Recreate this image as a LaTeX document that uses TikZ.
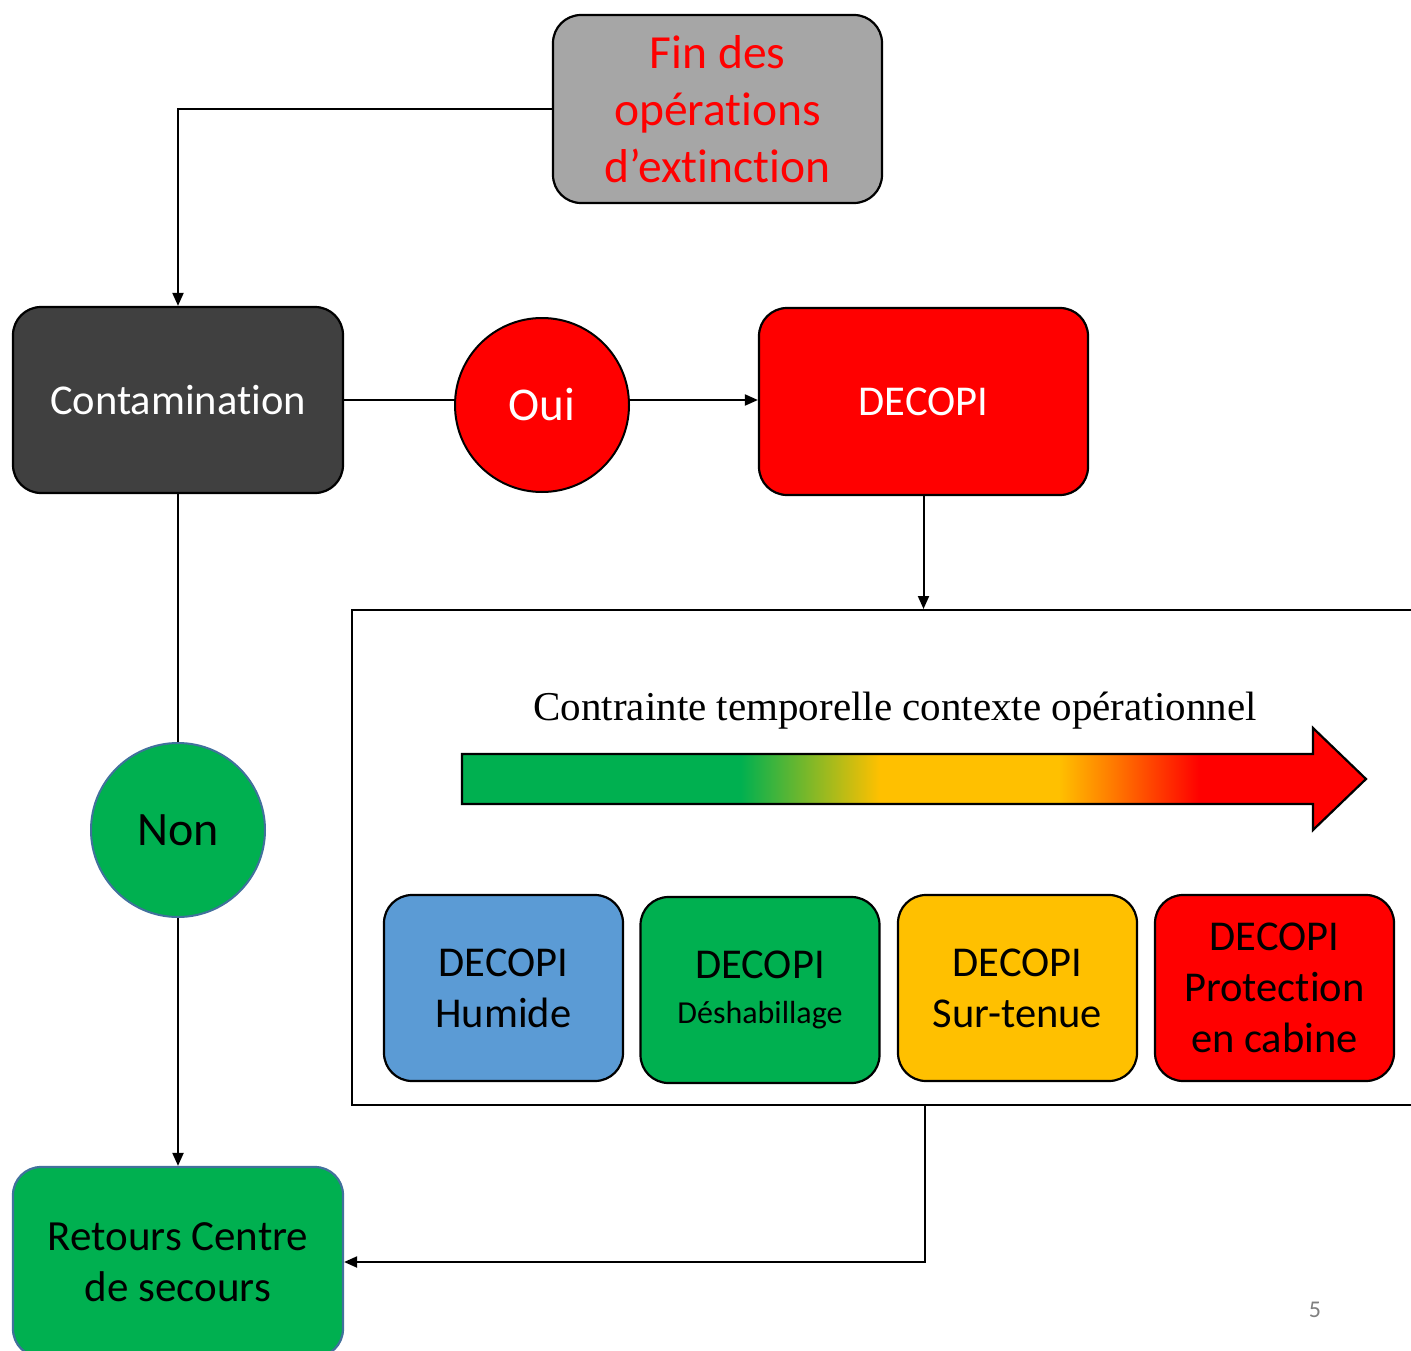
\documentclass[tikz,border=0pt]{standalone}
\usepackage{fontspec}
\setmainfont{Carlito}[Ligatures={NoCommon}]
\newfontfamily\serifont{Liberation Serif}
\usetikzlibrary{arrows.meta}
\definecolor{gbox}{HTML}{A6A6A6}
\definecolor{dark}{HTML}{404040}
\definecolor{ored}{HTML}{FF0000}
\definecolor{ogreen}{HTML}{00B050}
\definecolor{oblue}{HTML}{5B9BD5}
\definecolor{oyellow}{HTML}{FFC000}
\definecolor{oorange}{HTML}{FF7A00}
\definecolor{oborder}{HTML}{41719C}
\pgfdeclarehorizontalshading{timegrad}{100bp}{color(0bp)=(ogreen); color(40.4bp)=(ogreen); color(48.1bp)=(oyellow); color(58bp)=(oyellow); color(61bp)=(oorange); color(65.8bp)=(ored); color(100bp)=(ored)}
\tikzset{
  box/.style={draw=black, line width=2.2pt, rounded corners=28pt, inner sep=0pt, align=center},
  smallbox/.style={box, minimum width=239pt, minimum height=186pt, font=\fontsize{42.5}{51}\selectfont},
  disc/.style={circle, draw=black, line width=2pt, inner sep=0pt, minimum size=174pt, font=\fontsize{47}{50}\selectfont},
  conn/.style={line width=2pt, draw=black},
  arr/.style={conn, -{Triangle[length=13pt,width=11pt]}}
}
\begin{document}
\begin{tikzpicture}[x=1pt,y=-1pt]
\useasboundingbox (0,0) rectangle (1411,1351);
\clip (0,0) rectangle (1411,1351);
\fill[white] (0,0) rectangle (1411,1351);
% main nodes
\node[box, fill=gbox, text=ored, minimum width=329pt, minimum height=188pt, font=\fontsize{47.5}{57}\selectfont] (fin) at (717.5,109) {Fin des\\op\'erations\\d’extinction};
\node[box, fill=dark, text=white, minimum width=330pt, minimum height=186pt, font=\fontsize{42.5}{50}\selectfont] (cont) at (178,400) {Contamination};
\node[disc, fill=ored, text=white] (oui) at (542,405) {Oui};
\node[box, fill=ored, text=white, minimum width=329pt, minimum height=187pt, font=\fontsize{42.5}{50}\selectfont] (decopi) at (923.5,401.5) {DECOPI};
\node[disc, fill=ogreen, draw=oborder, text=black, font=\fontsize{48}{50}\selectfont] (non) at (178,830) {Non};
\node[box, fill=ogreen, draw=oborder, text=black, minimum width=330pt, minimum height=190pt, font=\fontsize{43}{51}\selectfont] (ret) at (178,1262) {Retours Centre\\de secours};
% big frame
\node[draw=black, line width=2pt, fill=white, minimum width=1073pt, minimum height=495pt, inner sep=0pt] (frame) at (888.5,857.5) {};
\node[font=\serifont\fontsize{41}{42}\selectfont] (ctitle) at (895,711) {Contrainte temporelle contexte op\'erationnel};
\shade[shading=timegrad, draw=black, line width=2.2pt] (462,754) -- (1313,754) -- (1313,728) -- (1366,779) -- (1313,830) -- (1313,804) -- (462,804) -- cycle;
% small boxes
\node[smallbox, fill=oblue] (b1) at (503.5,988) {DECOPI\\Humide};
\node[smallbox, fill=ogreen] (b2) at (760,990) {DECOPI\\[-6pt]{\fontsize{32}{40}\selectfont D\'eshabillage}};
\node[smallbox, fill=oyellow] (b3) at (1017.5,988) {DECOPI\\Sur-tenue};
\node[smallbox, fill=ored] (b4) at (1274.5,988) {DECOPI\\Protection\\en cabine};
% connectors
\draw[arr] (fin.west) -| (cont.north);
\draw[conn] (cont.east) -- (oui.west |- cont.east);
\draw[arr] (oui.east |- cont.east) -- (decopi.west |- cont.east);
\draw[arr] (decopi.south) -- (decopi.south |- frame.north);
\draw[conn] (cont.south) -- (non.north);
\draw[arr] (non.south) -- (ret.north);
\coordinate (fb) at (925,1105);
\draw[arr] (fb) |- (ret.east);
% page number
\node[text=gray, font=\fontsize{24}{26}\selectfont] (pg) at (1315,1310) {5};
\end{tikzpicture}
\end{document}
